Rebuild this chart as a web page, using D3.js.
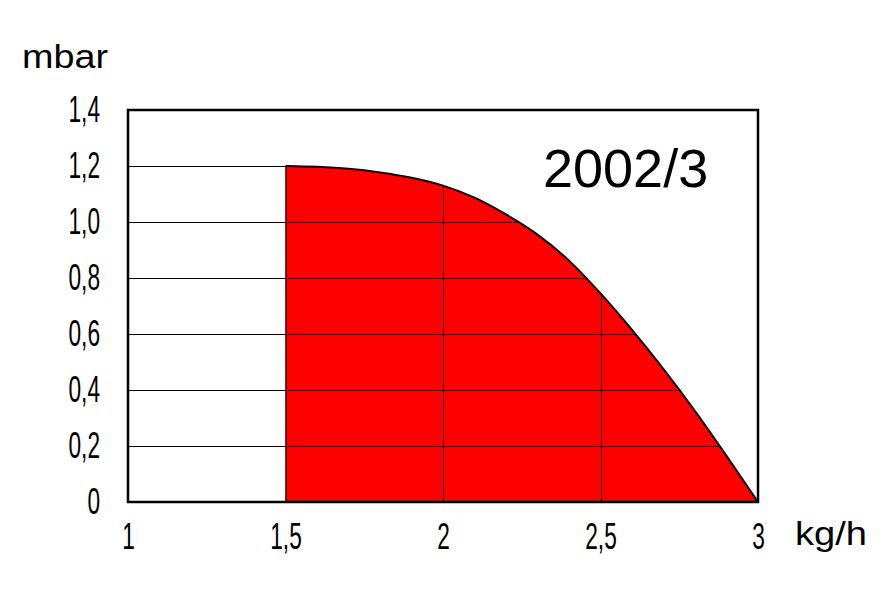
<!DOCTYPE html>
<html><head><meta charset="utf-8">
<script src="https://cdn.jsdelivr.net/npm/d3@7"></script>
<style>body{margin:0;background:#fff}</style>
</head><body>
<script>
const flowX = [1.5, 1.6, 1.7, 1.8, 1.9, 2.0, 2.1, 2.2, 2.3, 2.4, 2.5, 2.6, 2.7, 2.8, 2.9, 3.0];
const pressureY = [1.2, 1.197, 1.19, 1.177, 1.158, 1.13, 1.087, 1.027, 0.955, 0.862, 0.745, 0.615, 0.475, 0.325, 0.165, 0];
const xTicks = [1, 1.5, 2, 2.5, 3];
const yTicks = [0, 0.2, 0.4, 0.6, 0.8, 1.0, 1.2, 1.4];
const xTickLabels = ["1", "1,5", "2", "2,5", "3"];
const yTickLabels = ["0", "0,2", "0,4", "0,6", "0,8", "1,0", "1,2", "1,4"];
const gridX = [2, 2.5];
const title = "2002/3";

const W = 887, H = 591;
const L = 128, R = 758, T = 110, B = 502;
const svg = d3.select("body").append("svg").attr("width", W).attr("height", H);
const x = d3.scaleLinear().domain([1, 3]).range([L, R]);
const y = d3.scaleLinear().domain([0, 1.4]).range([B, T]);
const pts = flowX.map((v, i) => [v, pressureY[i]]);

const area = d3.area().x(d => x(d[0])).y0(y(0)).y1(d => y(d[1])).curve(d3.curveMonotoneX);
const line = d3.line().x(d => x(d[0])).y(d => y(d[1])).curve(d3.curveMonotoneX);

const defs = svg.append("defs");
const cp = defs.append("clipPath").attr("id", "gclip");
cp.append("rect").attr("x", x(1)).attr("y", y(1.4)).attr("width", x(1.5) - x(1)).attr("height", y(0) - y(1.4));
cp.append("path").attr("d", area(pts));

svg.append("path").attr("d", area(pts)).attr("fill", "#ff0000");

const g = svg.append("g").attr("clip-path", "url(#gclip)");
g.selectAll(".hg").data(yTicks.slice(1, -1)).join("line")
  .attr("x1", L).attr("x2", R).attr("y1", d => Math.round(y(d)) + 0.5).attr("y2", d => Math.round(y(d)) + 0.5)
  .attr("stroke", "#000").attr("stroke-width", 1);
g.selectAll(".vg").data(gridX).join("line")
  .attr("x1", d => Math.round(x(d)) + 0.5).attr("x2", d => Math.round(x(d)) + 0.5).attr("y1", T).attr("y2", B)
  .attr("stroke", "#300").attr("stroke-width", 1);

svg.append("line").attr("x1", x(1.5) + 0.5).attr("x2", x(1.5) + 0.5).attr("y1", y(1.2)).attr("y2", B)
  .attr("stroke", "#000").attr("stroke-width", 1.2);
svg.append("path").attr("d", line(pts)).attr("fill", "none").attr("stroke", "#000").attr("stroke-width", 2);

svg.append("rect").attr("x", L).attr("y", T).attr("width", R - L).attr("height", B - T)
  .attr("fill", "none").attr("stroke", "#000").attr("stroke-width", 2.5);

const tickFont = "'Liberation Sans', Arial, sans-serif";
const yAxis = svg.append("g").attr("transform", `translate(${L},0)`)
  .call(d3.axisLeft(y).tickValues(yTicks).tickSize(0).tickPadding(28).tickFormat((d, i) => yTickLabels[i]));
yAxis.select(".domain").remove();
yAxis.selectAll("text").attr("font-family", tickFont).attr("font-size", 36).attr("fill", "#000")
  .attr("x", 0).attr("transform", "translate(-28,0) scale(0.63,1.02)");

const xAxis = svg.append("g").attr("transform", `translate(0,${B})`)
  .call(d3.axisBottom(x).tickValues(xTicks).tickSize(0).tickPadding(21).tickFormat((d, i) => xTickLabels[i]));
xAxis.select(".domain").remove();
xAxis.selectAll("text").attr("font-family", tickFont).attr("font-size", 36).attr("fill", "#000")
  .attr("y", 0).attr("transform", "translate(0,21) scale(0.63,1.02)");

svg.append("text").attr("x", 22).attr("y", 68).text("mbar")
  .attr("font-family", "'Liberation Sans', Arial, sans-serif").attr("font-size", 34).attr("fill", "#000")
  .attr("textLength", 86).attr("lengthAdjust", "spacingAndGlyphs");
svg.append("text").attr("x", 795).attr("y", 545).text("kg/h")
  .attr("font-family", "'Liberation Sans', Arial, sans-serif").attr("font-size", 34).attr("fill", "#000")
  .attr("textLength", 72).attr("lengthAdjust", "spacingAndGlyphs");
svg.append("text").attr("x", 543).attr("y", 187).text(title)
  .attr("font-family", "'Liberation Sans', Arial, sans-serif").attr("font-size", 54).attr("fill", "#000");
</script>
</body></html>
